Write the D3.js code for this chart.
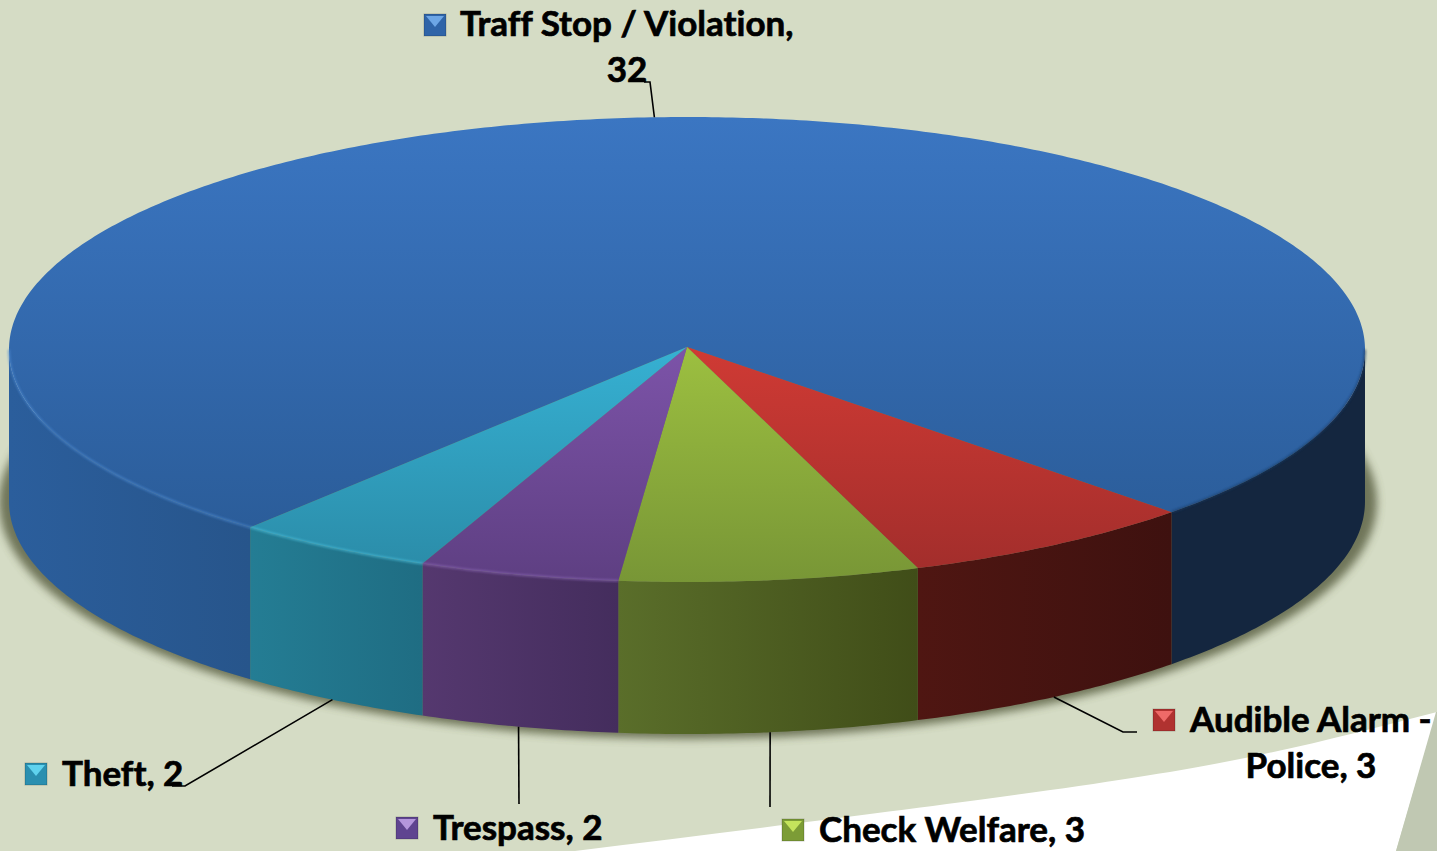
<!DOCTYPE html>
<html>
<head>
<meta charset="utf-8">
<script src="https://cdn.jsdelivr.net/npm/d3@7"></script>
<style>
  html, body { margin: 0; padding: 0; background: #d5dcc5; overflow: hidden; }
  text {
    font-family: Lato, "Open Sans", sans-serif; font-weight: 700; font-size: 35px; fill: #000;
    stroke: #000; stroke-width: 0.7px; font-variant-ligatures: none;
  }
</style>
</head>
<body>
<div class="svg_container"></div>
<script>
// data, clockwise from the edge of the big slice
var categories = ['Traff Stop / Violation', 'Audible Alarm - Police', 'Check Welfare', 'Trespass', 'Theft'];
var values = [32, 3, 3, 2, 2];

const WIDTH = 1437;
const HEIGHT = 851;
const CX = 687;
const CY = 349.5;
const APEX_Y = 347;
const RX = 678;
const RY = 232.5;
const DEPTH = 152;
const START = 220.1 * Math.PI / 180;

// colours per slice: top gradient, wall gradient, swatch
var topColors = [['#3b76c2', '#2b5d9a'], ['#cf3a34', '#a02d2b'], ['#9cbf40', '#789636'], ['#7c53a8', '#5e3f82'], ['#36b0d2', '#2a8aa6']];
var wallColors = [['#2b5e9c', '#27558b'], ['#4f1612', '#3e110f'], ['#5a6e2a', '#404d18'], ['#55386f', '#442d5d'], ['#247d94', '#1f6d83']];
var swatchColors = [['#2f64a8', '#6da6e6'], ['#b03230', '#ee6a68'], ['#7c9c36', '#c4e45c'], ['#5f4490', '#b496dc'], ['#2a8fb0', '#5fd2ee']];
var rightWall = ['#14263f', '#14263f'];

// label layout
var labelLines = [['Traff Stop / Violation,', '32'], ['Audible Alarm -', 'Police, 3'], ['Check Welfare, 3'], ['Trespass, 2'], ['Theft, 2']];
var labelX = [460, 1190, 819, 433, 62];
var labelY = [36, 732, 842, 840, 786];
var secondLineX = [627, 1311];
var secondLineY = [82, 778];
var swatchX = [424, 1153, 782, 396, 25];
var swatchY = [14, 709, 819, 817, 763];
const SWATCH = 22;
// where each leader leaves the pie is computed, these are the elbows
var leaderEnds = [[[650, 82], [644, 82]], [[1123, 732], [1137, 732]], [[770, 807]], [[519, 804]], [[185, 786], [172, 786]]];

var project = function (a, drop) {
  return [CX + RX * Math.sin(a), CY - RY * Math.cos(a) + (drop || 0)];
};

var samples = function (a0, a1) {
  var n = Math.max(2, Math.ceil(Math.abs(a1 - a0) / 0.01));
  return d3.range(n + 1).map(function (i) { return a0 + (a1 - a0) * i / n; });
};

var line = d3.line();

var svg = d3.select('.svg_container').append('svg')
  .attr('width', WIDTH)
  .attr('height', HEIGHT)
  .style('display', 'block');

var defs = svg.append('defs');

var addGradient = function (id, colors, x1, y1, x2, y2) {
  var g = defs.append('linearGradient').attr('id', id)
    .attr('gradientUnits', 'userSpaceOnUse')
    .attr('x1', x1).attr('y1', y1).attr('x2', x2).attr('y2', y2);
  g.append('stop').attr('offset', 0).attr('stop-color', colors[0]);
  g.append('stop').attr('offset', 1).attr('stop-color', colors[1]);
};

defs.append('filter').attr('id', 'soft')
  .attr('x', '-5%').attr('y', '-5%').attr('width', '110%').attr('height', '110%')
  .append('feGaussianBlur').attr('stdDeviation', 4);
defs.append('filter').attr('id', 'edge')
  .append('feGaussianBlur').attr('stdDeviation', 0.8);

// background swoosh
svg.append('rect').attr('width', WIDTH).attr('height', HEIGHT).attr('fill', '#d5dcc5');
var swooshTop = [[575, 851], [1000, 797], [1250, 757], [1437, 712]];
svg.append('path')
  .attr('d', d3.line().curve(d3.curveNatural)(swooshTop) + 'L1396,851Z')
  .attr('fill', '#ffffff');
svg.append('path')
  .attr('d', line([[1436, 712], [1437, 712], [1437, 851], [1396, 851]]) + 'Z')
  .attr('fill', '#c0c8b2');

// shadow under the pie
svg.append('ellipse')
  .attr('cx', CX + 1).attr('cy', CY + DEPTH + 1).attr('rx', RX + 11).attr('ry', RY + 4)
  .attr('fill', '#4e5236').attr('opacity', 0.75)
  .attr('filter', 'url(#soft)');

var arcs = d3.pie().sort(null).startAngle(START).endAngle(START + 2 * Math.PI)(values);

// walls, only the parts facing us (between 90 and 270 degrees)
var wallParts = [];
arcs.forEach(function (d, i) {
  [0, 2 * Math.PI].forEach(function (shift) {
    var a0 = Math.max(d.startAngle - shift, Math.PI / 2);
    var a1 = Math.min(d.endAngle - shift, 3 * Math.PI / 2);
    if (a1 > a0) wallParts.push({ i: i, a0: a0, a1: a1, right: a1 < Math.PI / 1.3 && i === 0 });
  });
});

svg.append('g').selectAll('path')
  .data(wallParts)
  .enter().append('path')
  .each(function (d, k) {
    var xs = [project(d.a0)[0], project(d.a1)[0]];
    addGradient('wall' + k, d.right ? rightWall : wallColors[d.i], d3.min(xs), 0, d3.max(xs), 0);
  })
  .attr('d', function (d) {
    var front = samples(d.a0, d.a1);
    var upper = front.map(function (a) { return project(a, 0); });
    var lower = front.slice().reverse().map(function (a) { return project(a, DEPTH); });
    return line(upper.concat(lower)) + 'Z';
  })
  .attr('fill', function (d, k) { return 'url(#wall' + k + ')'; });

// top face
svg.append('g').selectAll('path')
  .data(arcs)
  .enter().append('path')
  .each(function (d, i) {
    if (i === 0) addGradient('top0', topColors[0], 0, CY - RY, 0, 525);
    else addGradient('top' + i, topColors[i], 0, CY, 0, CY + RY);
  })
  .attr('d', function (d) {
    var rim = samples(d.startAngle, d.endAngle).map(function (a) { return project(a); });
    return line([[CX, APEX_Y]].concat(rim)) + 'Z';
  })
  .attr('fill', function (d, i) { return 'url(#top' + i + ')'; });

// lighter rim on the left part of the front edge, dark one on the right
var rimColors = ['#4d8ad2', null, null, '#8a66b4', '#4cc0dc'];
svg.append('g').selectAll('path')
  .data(wallParts.filter(function (d) { return rimColors[d.i]; }))
  .enter().append('path')
  .attr('d', function (d) {
    return line(samples(d.a0, d.a1).map(function (a) { return project(a, 0); }));
  })
  .attr('fill', 'none')
  .attr('stroke', function (d) { return d.right ? '#1b3a63' : rimColors[d.i]; })
  .attr('stroke-width', 2)
  .attr('opacity', 0.7)
  .attr('filter', 'url(#edge)');

// leaders
svg.append('g').selectAll('path')
  .data(arcs)
  .enter().append('path')
  .attr('d', function (d, i) {
    var mid = (d.startAngle + d.endAngle) / 2;
    var back = Math.cos(mid) > 0;
    return line([project(mid, back ? 0 : DEPTH)].concat(leaderEnds[i]));
  })
  .attr('fill', 'none')
  .attr('stroke', '#000')
  .attr('stroke-width', 1.6);

// swatches with the little bevel
var swatch = svg.append('g').selectAll('g')
  .data(categories)
  .enter().append('g')
  .attr('transform', function (d, i) { return 'translate(' + swatchX[i] + ',' + swatchY[i] + ')'; });
swatch.append('rect')
  .attr('width', SWATCH).attr('height', SWATCH)
  .attr('fill', function (d, i) { return swatchColors[i][0]; })
  .attr('stroke', '#00000033');
swatch.append('path')
  .attr('d', line([[2, 2], [SWATCH - 2, 2], [SWATCH / 2, 13]]) + 'Z')
  .attr('fill', function (d, i) { return swatchColors[i][1]; });

// labels
svg.append('g').selectAll('text')
  .data(labelLines)
  .enter().append('text')
  .attr('x', function (d, i) { return labelX[i]; })
  .attr('y', function (d, i) { return labelY[i]; })
  .text(function (d) { return d[0]; });
svg.append('g').selectAll('text')
  .data(labelLines.filter(function (d) { return d.length > 1; }))
  .enter().append('text')
  .attr('x', function (d, i) { return secondLineX[i]; })
  .attr('y', function (d, i) { return secondLineY[i]; })
  .attr('text-anchor', 'middle')
  .text(function (d) { return d[1]; });
</script>
</body>
</html>
